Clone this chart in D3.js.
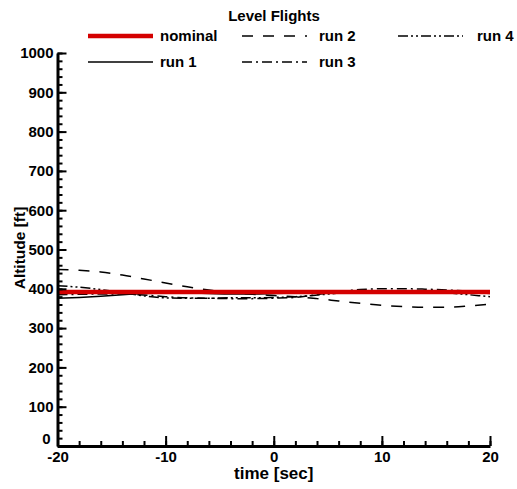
<!DOCTYPE html>
<html>
<head>
<meta charset="utf-8">
<script src="https://cdn.jsdelivr.net/npm/d3@7"></script>
<style>
  body { margin: 0; background: #fff; }
  text { font-family: "Liberation Sans", Arial, sans-serif; font-weight: bold; }
</style>
</head>
<body>
<div id="chart"></div>
<script>
// time axis samples (sec)
const time = [-20, -18, -16, -14, -12, -10, -8, -6, -4, -2, 0, 2, 4, 6, 8, 10, 12, 14, 16, 18, 20];
// altitude (ft) per run
const nominal = [392, 392, 392, 392, 392, 392, 392, 392, 392, 392, 392, 392, 392, 392, 392, 392, 392, 392, 392, 392, 392];
const run1 = [376, 378, 381, 385, 388, 389, 389, 388, 387, 387, 388, 389, 390, 391, 392, 392, 392, 392, 391, 390, 388];
const run2 = [449, 447, 443, 435, 425, 415, 405, 397, 390, 386, 383, 380, 375, 369, 363, 358, 355, 353, 353, 356, 361];
const run3 = [385, 386, 387, 387, 384, 380, 377, 376, 375, 375, 376, 378, 385, 393, 398, 400, 400, 399, 397, 394, 392];
const run4 = [408, 404, 398, 390, 382, 377, 376, 376, 377, 377, 378, 380, 384, 389, 393, 395, 395, 394, 390, 385, 380];

const xTicks = [-20, -10, 0, 10, 20];
const yTicks = [0, 100, 200, 300, 400, 500, 600, 700, 800, 900, 1000];

const series = [
    { name: "run 1", values: run1, color: "#000", width: 1.5, dash: null },
    { name: "run 2", values: run2, color: "#000", width: 1.5, dash: "11,10" },
    { name: "run 3", values: run3, color: "#000", width: 1.5, dash: "10,4,2,4" },
    { name: "run 4", values: run4, color: "#000", width: 1.5, dash: "10,3,2,3,2,3" },
    { name: "nominal", values: nominal, color: "#d40000", width: 4.5, dash: null },
];

const W = 517, H = 489;
const margin = { left: 57.5, right: 27, top: 53, bottom: 43 };
const width = W - margin.left - margin.right;
const height = H - margin.top - margin.bottom;

const root = d3.select("#chart").append("svg")
    .attr("width", W)
    .attr("height", H);

const svg = root.append("g")
    .attr("transform", "translate(" + margin.left + "," + margin.top + ")");

var x = d3.scaleLinear().domain([-20, 20]).range([0, width]);
var y = d3.scaleLinear().domain([0, 1000]).range([height, 0]);

// lines
const line = d3.line()
    .x((d, i) => x(time[i]))
    .y(d => y(d))
    .curve(d3.curveMonotoneX);

series.forEach(s => {
    svg.append("path")
        .datum(s.values)
        .attr("fill", "none")
        .attr("stroke", s.color)
        .attr("stroke-width", s.width)
        .attr("stroke-dasharray", s.dash)
        .attr("d", line);
});

// minor ticks (inward)
svg.append("g")
    .attr("class", "minor")
    .attr("transform", "translate(0," + height + ")")
    .call(d3.axisBottom(x).tickValues(d3.range(-20, 21, 2)).tickSize(-5).tickFormat(""));
svg.append("g")
    .attr("class", "minor")
    .call(d3.axisLeft(y).tickValues(d3.range(0, 1001, 20)).tickSize(-5).tickFormat(""));

// major axes
const xAxis = svg.append("g")
    .attr("class", "major")
    .attr("transform", "translate(0," + height + ")")
    .call(d3.axisBottom(x).tickValues(xTicks).tickFormat(d => String(d))
        .tickSizeInner(-10).tickSizeOuter(0).tickPadding(5));
const yAxis = svg.append("g")
    .attr("class", "major")
    .call(d3.axisLeft(y).tickValues(yTicks).tickFormat(d => String(d))
        .tickSizeInner(-9).tickSizeOuter(0).tickPadding(4));

svg.selectAll(".minor path").remove();
svg.selectAll(".tick line").attr("stroke", "#000").attr("stroke-width", 2);
svg.selectAll(".major path.domain").attr("stroke", "#000").attr("stroke-width", 3);
svg.selectAll(".major text")
    .attr("fill", "#000")
    .style("font-size", "15px")
    .style("font-family", "'Liberation Sans', Arial, sans-serif")
    .style("font-weight", "bold");
// "0" on the y axis sits a bit higher, clear of "-20"
yAxis.selectAll(".tick").filter(d => d === 0).select("text")
    .attr("dy", "-0.2em").attr("x", -7);

// axis titles
svg.append("text")
    .attr("x", width / 2)
    .attr("y", height + 33)
    .attr("text-anchor", "middle")
    .style("font-size", "17px")
    .text("time [sec]");

svg.append("text")
    .attr("transform", "rotate(-90)")
    .attr("x", -(248 - margin.top))
    .attr("y", -margin.left + 25)
    .attr("text-anchor", "middle")
    .style("font-size", "15.5px")
    .text("Altitude [ft]");

// title
root.append("text")
    .attr("x", 274)
    .attr("y", 21)
    .attr("text-anchor", "middle")
    .style("font-size", "15px")
    .text("Level Flights");

// legend
const legendItems = [
    { s: series[4], col: 0, row: 0 },
    { s: series[0], col: 0, row: 1 },
    { s: series[1], col: 1, row: 0 },
    { s: series[2], col: 1, row: 1 },
    { s: series[3], col: 2, row: 0 },
];
const colX = [88, 242, 398];
const colText = [160, 319, 477];
const rowY = [36, 62];

const legend = root.append("g");
legendItems.forEach(it => {
    legend.append("line")
        .attr("x1", colX[it.col])
        .attr("x2", colX[it.col] + 65)
        .attr("y1", rowY[it.row])
        .attr("y2", rowY[it.row])
        .attr("stroke", it.s.color)
        .attr("stroke-width", it.s === series[4] ? 4.5 : 1.5)
        .attr("stroke-dasharray", it.s.dash);
    legend.append("text")
        .attr("x", colText[it.col])
        .attr("y", rowY[it.row] + 5)
        .style("font-size", "15px")
        .text(it.s.name);
});
</script>
</body>
</html>
